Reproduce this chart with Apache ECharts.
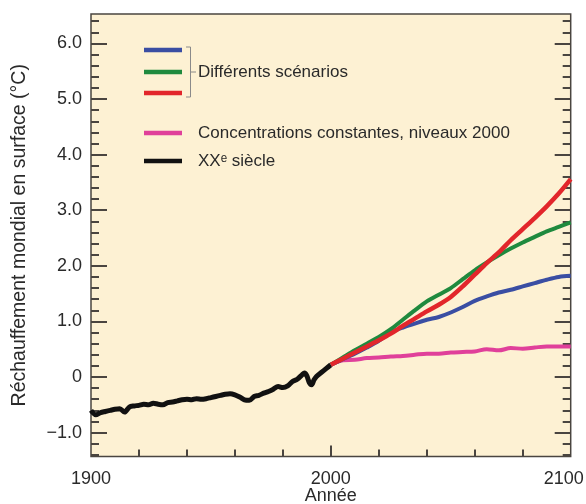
<!DOCTYPE html>
<html>
<head>
<meta charset="utf-8">
<script src="https://cdn.jsdelivr.net/npm/echarts@6/dist/echarts.min.js"></script>
<style>
html,body{margin:0;padding:0;background:#fff;}
#chart{width:586px;height:504px;}
</style>
</head>
<body>
<div id="chart"></div>
<script>
// ---- Data ----
var histYears = [1900,1902,1904,1906,1908,1910,1912,1914,1916,1918,1920,1922,1924,1926,1928,1930,1932,1934,1936,1938,1940,1942,1944,1946,1948,1950,1952,1954,1956,1958,1960,1962,1964,1966,1968,1970,1972,1974,1976,1978,1980,1982,1984,1986,1988,1989,1990,1991,1992,1993,1994,1996,1998,2000];
var histValues = [-0.60,-0.68,-0.64,-0.62,-0.60,-0.58,-0.57,-0.63,-0.54,-0.52,-0.51,-0.49,-0.50,-0.47,-0.49,-0.50,-0.46,-0.45,-0.43,-0.41,-0.40,-0.41,-0.39,-0.40,-0.39,-0.37,-0.35,-0.33,-0.31,-0.30,-0.32,-0.36,-0.41,-0.42,-0.35,-0.33,-0.29,-0.26,-0.22,-0.17,-0.19,-0.16,-0.08,-0.04,0.04,0.07,0.02,-0.10,-0.14,-0.05,0.01,0.08,0.15,0.22];

var scenYears = [2000,2005,2010,2015,2020,2025,2030,2035,2040,2045,2050,2055,2060,2065,2070,2075,2080,2085,2090,2095,2100];
var blueValues  = [0.22,0.32,0.42,0.53,0.65,0.80,0.89,0.96,1.03,1.08,1.16,1.26,1.37,1.45,1.52,1.57,1.63,1.69,1.75,1.80,1.82];
var greenValues = [0.22,0.35,0.48,0.60,0.72,0.86,1.03,1.20,1.36,1.48,1.60,1.76,1.92,2.06,2.19,2.31,2.42,2.52,2.62,2.70,2.78];
var redValues   = [0.22,0.33,0.44,0.55,0.66,0.78,0.92,1.05,1.18,1.30,1.44,1.63,1.84,2.05,2.24,2.46,2.66,2.86,3.07,3.30,3.56];
var pinkValues  = [0.22,0.30,0.31,0.34,0.35,0.37,0.38,0.40,0.42,0.42,0.44,0.45,0.46,0.50,0.48,0.52,0.51,0.53,0.55,0.55,0.55];

var xLabelTicks = [1900,2000,2100];
var xMinorTicks = [1920,1940,1960,1980,2020,2040,2060,2080];
var xMajorTicks = [2000];
var yMajorTicks = [-1,0,1,2,3,4,5,6];
var yMinorTicks = [-1.4,-1.2,-0.8,-0.6,-0.4,-0.2,0.2,0.4,0.6,0.8,1.2,1.4,1.6,1.8,2.2,2.4,2.6,2.8,3.2,3.4,3.6,3.8,4.2,4.4,4.6,4.8,5.2,5.4,5.6,5.8,6.2,6.4];

var legendNames = ['Différents scénarios','Concentrations constantes, niveaux 2000','XXᵉ siècle'];

function pairs(xs, ys){ return xs.map(function(x,i){ return [x, ys[i]]; }); }

var FONT = 'Liberation Sans, Arial, Helvetica, sans-serif';
var TXT = '#2a2a2a';
var AX = '#4a4540';

function yLabel(v){
  if (v === 0) return '0';
  if (v < 0) return '\u2212' + Math.abs(v).toFixed(1);
  return v.toFixed(1);
}
function xLabel(v){
  if (v === 2100) return '{r|' + v + '}';
  return String(v);
}

var YMIN = -1.43, YMAX = 6.53;

function yAxisDef(pos, ticks, len, withLabel, extra){
  var a = {
    type:'value', position: pos, min: YMIN, max: YMAX, gridIndex:0,
    axisLine:{show:false, onZero:false},
    splitLine:{show:false},
    axisTick:{show:true, inside:true, length:len, customValues: ticks, lineStyle:{color:AX, width:2}},
    axisLabel: withLabel ? {show:true, customValues: ticks, formatter: yLabel, color:TXT, fontSize:18, fontFamily:FONT, margin:9}
                         : {show:false, customValues: ticks}
  };
  if (extra) for (var k in extra) a[k] = extra[k];
  return a;
}

var chart = echarts.init(document.getElementById('chart'), null, {renderer:'canvas'});
var option = {
  backgroundColor:'#ffffff',
  animation:false,
  grid:{left:91, right:15.3, top:14, bottom:47.5, outerBoundsMode:'none', containLabel:false,
        show:true, backgroundColor:'#fdf1d3', borderColor:AX, borderWidth:1.5},
  xAxis:[
    {type:'value', position:'bottom', min:1900, max:2100, gridIndex:0,
     axisLine:{show:false, onZero:false}, splitLine:{show:false},
     axisTick:{show:true, inside:true, length:7, customValues: xMinorTicks, lineStyle:{color:AX, width:2}},
     axisLabel:{show:true, customValues: xLabelTicks, formatter: xLabel, color:TXT, fontSize:18, fontFamily:FONT, margin:14,
       rich:{r:{color:TXT, fontSize:18, fontFamily:FONT, padding:[0,14,0,0]}}},
     name:'Année', nameLocation:'middle', nameGap:31, nameMoveOverlap:false,
     nameTextStyle:{color:TXT, fontSize:18, fontFamily:FONT}},
    {type:'value', position:'bottom', min:1900, max:2100, gridIndex:0,
     axisLine:{show:false, onZero:false}, splitLine:{show:false},
     axisTick:{show:true, inside:true, length:11, customValues: xMajorTicks, lineStyle:{color:AX, width:2}},
     axisLabel:{show:false, customValues: xMajorTicks}}
  ],
  yAxis:[
    yAxisDef('left', yMajorTicks, 16, true, {name:'Réchauffement mondial en surface (°C)', nameLocation:'middle', nameGap:61, nameRotate:90,
      nameMoveOverlap:false, nameTextStyle:{color:TXT, fontSize:19.5, fontFamily:FONT}}),
    yAxisDef('left', yMinorTicks, 8, false),
    yAxisDef('right', yMajorTicks, 16, false),
    yAxisDef('right', yMinorTicks, 8, false)
  ],
  series:[
    {name:'XXᵉ siècle', type:'line', data:pairs(histYears, histValues), showSymbol:false, smooth:0.3,
     lineStyle:{color:'#111111', width:5}, z:2},
    {name:'Concentrations constantes', type:'line', data:pairs(scenYears, pinkValues), showSymbol:false, smooth:0.3,
     lineStyle:{color:'#e0409a', width:4}, z:3},
    {name:'Scénario bleu', type:'line', data:pairs(scenYears, blueValues), showSymbol:false, smooth:0.3,
     lineStyle:{color:'#3a4ea3', width:4}, z:4},
    {name:'Scénario vert', type:'line', data:pairs(scenYears, greenValues), showSymbol:false, smooth:0.3,
     lineStyle:{color:'#1f8a3e', width:4}, z:5},
    {name:'Scénario rouge', type:'line', data:pairs(scenYears, redValues), showSymbol:false, smooth:0.3,
     lineStyle:{color:'#e2262b', width:4.5}, z:6}
  ],
  graphic:[
    {type:'line', shape:{x1:144,y1:50,x2:182,y2:50}, style:{stroke:'#3a4ea3', lineWidth:4.5}},
    {type:'line', shape:{x1:144,y1:72,x2:182,y2:72}, style:{stroke:'#1f8a3e', lineWidth:4.5}},
    {type:'line', shape:{x1:144,y1:93,x2:182,y2:93}, style:{stroke:'#e2262b', lineWidth:4.5}},
    {type:'line', shape:{x1:144,y1:133,x2:182,y2:133}, style:{stroke:'#e0409a', lineWidth:4.5}},
    {type:'line', shape:{x1:144,y1:161,x2:182,y2:161}, style:{stroke:'#111111', lineWidth:4.5}},
    {type:'polyline', shape:{points:[[186,47],[190.5,47],[190.5,97],[186,97]]}, style:{stroke:'#8a8a8a', lineWidth:1, fill:null}},
    {type:'line', shape:{x1:190.5,y1:72,x2:196,y2:72}, style:{stroke:'#8a8a8a', lineWidth:1}},
    {type:'text', x:198, y:72, style:{text:legendNames[0], fill:TXT, fontSize:17, fontFamily:FONT, verticalAlign:'middle'}},
    {type:'text', x:198, y:133, style:{text:legendNames[1], fill:TXT, fontSize:17, fontFamily:FONT, verticalAlign:'middle'}},
    {type:'text', x:198, y:161, style:{text:legendNames[2], fill:TXT, fontSize:17, fontFamily:FONT, verticalAlign:'middle'}}
  ]
};
chart.setOption(option);
</script>
</body>
</html>
